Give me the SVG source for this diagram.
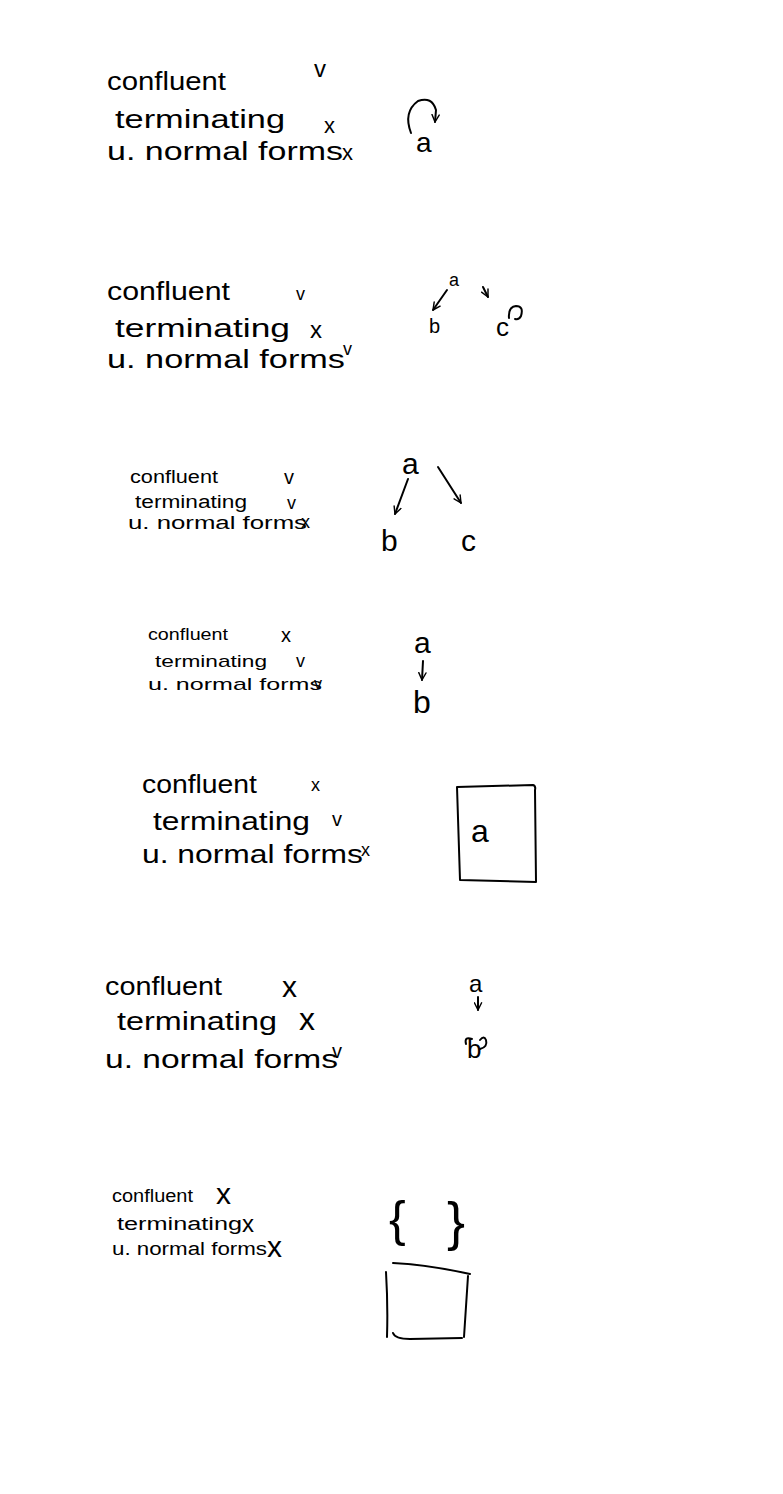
<svg xmlns="http://www.w3.org/2000/svg" width="783" height="1494" viewBox="0 0 783 1494">
<style>
text{font-family:"Liberation Sans","DejaVu Sans",sans-serif;fill:#000}
.l{lengthAdjust:spacingAndGlyphs}
.e{fill:none;stroke:#000;stroke-width:2;stroke-linecap:round;stroke-linejoin:round}
</style>
<defs>
<marker id="ah" viewBox="0 0 10 10" refX="9" refY="5" markerWidth="9" markerHeight="9" markerUnits="userSpaceOnUse" orient="auto">
<path d="M1,1 L9,5 L1,9" fill="none" stroke="#000" stroke-width="1.6" stroke-linecap="round" stroke-linejoin="round"/>
</marker>
</defs>
<rect width="783" height="1494" fill="#fff"/>

<g id="s1">
<text x="107" y="90" font-size="26" textLength="119" lengthAdjust="spacingAndGlyphs">confluent</text>
<text x="115" y="128" font-size="26" textLength="170" lengthAdjust="spacingAndGlyphs">terminating</text>
<text x="107" y="160" font-size="26" textLength="236" lengthAdjust="spacingAndGlyphs">u. normal forms</text>
<text x="314" y="77" font-size="24">v</text>
<text x="324" y="133" font-size="22">x</text>
<text x="342" y="160" font-size="22">x</text>
<g id="s1-a"><text x="416" y="152" font-size="28">a</text></g>
</g>

<g id="s2">
<text x="107" y="300" font-size="26" textLength="123" lengthAdjust="spacingAndGlyphs">confluent</text>
<text x="115" y="337" font-size="26" textLength="175" lengthAdjust="spacingAndGlyphs">terminating</text>
<text x="107" y="368" font-size="26" textLength="238" lengthAdjust="spacingAndGlyphs">u. normal forms</text>
<text x="296" y="300" font-size="18">v</text>
<text x="310" y="338" font-size="24">x</text>
<text x="343" y="355" font-size="18">v</text>
<g id="s2-a"><text x="449" y="286" font-size="18">a</text></g>
<g id="s2-b"><text x="429" y="333" font-size="20">b</text></g>
<g id="s2-c"><text x="496" y="336" font-size="26">c</text></g>
</g>

<g id="s3">
<text x="130" y="483" font-size="18" textLength="88" lengthAdjust="spacingAndGlyphs">confluent</text>
<text x="135" y="508" font-size="18" textLength="112" lengthAdjust="spacingAndGlyphs">terminating</text>
<text x="128" y="529" font-size="18" textLength="179" lengthAdjust="spacingAndGlyphs">u. normal forms</text>
<text x="284" y="484" font-size="20">v</text>
<text x="287" y="509" font-size="18">v</text>
<text x="301" y="528" font-size="18">x</text>
<g id="s3-a"><text x="402" y="474" font-size="30">a</text></g>
<g id="s3-b"><text x="381" y="551" font-size="30">b</text></g>
<g id="s3-c"><text x="461" y="551" font-size="30">c</text></g>
</g>

<g id="s4">
<text x="148" y="640" font-size="17" textLength="80" lengthAdjust="spacingAndGlyphs">confluent</text>
<text x="155" y="667" font-size="17" textLength="112" lengthAdjust="spacingAndGlyphs">terminating</text>
<text x="148" y="690" font-size="17" textLength="174" lengthAdjust="spacingAndGlyphs">u. normal forms</text>
<text x="281" y="642" font-size="20">x</text>
<text x="296" y="667" font-size="18">v</text>
<text x="314" y="689" font-size="16">v</text>
<g id="s4-a"><text x="414" y="653" font-size="30">a</text></g>
<g id="s4-b"><text x="413" y="713" font-size="32">b</text></g>
</g>

<g id="s5">
<text x="142" y="793" font-size="25" textLength="115" lengthAdjust="spacingAndGlyphs">confluent</text>
<text x="153" y="830" font-size="25" textLength="157" lengthAdjust="spacingAndGlyphs">terminating</text>
<text x="142" y="863" font-size="25" textLength="221" lengthAdjust="spacingAndGlyphs">u. normal forms</text>
<text x="311" y="791" font-size="18">x</text>
<text x="332" y="826" font-size="20">v</text>
<text x="361" y="856" font-size="18">x</text>
<g id="s5-a">
<path class="e" d="M457,787 L533,785 Q536,786 535,790 L536,882 L460,880 L457,787"/>
<text x="471" y="842" font-size="32">a</text>
</g>
</g>

<g id="s6">
<text x="105" y="995" font-size="26" textLength="117" lengthAdjust="spacingAndGlyphs">confluent</text>
<text x="117" y="1030" font-size="26" textLength="160" lengthAdjust="spacingAndGlyphs">terminating</text>
<text x="105" y="1068" font-size="26" textLength="233" lengthAdjust="spacingAndGlyphs">u. normal forms</text>
<text x="282" y="997" font-size="30">x</text>
<text x="299" y="1030" font-size="32">x</text>
<text x="332" y="1058" font-size="20">v</text>
<g id="s6-a"><text x="469" y="992" font-size="24">a</text></g>
<g id="s6-b"><text x="467" y="1058" font-size="26">b</text></g>
</g>

<g id="s7">
<text x="112" y="1202" font-size="18" textLength="81" lengthAdjust="spacingAndGlyphs">confluent</text>
<text x="117" y="1230" font-size="18" textLength="125" lengthAdjust="spacingAndGlyphs">terminating</text>
<text x="112" y="1255" font-size="18" textLength="155" lengthAdjust="spacingAndGlyphs">u. normal forms</text>
<text x="216" y="1204" font-size="30">x</text>
<text x="242" y="1232" font-size="24">x</text>
<text x="267" y="1257" font-size="30">x</text>
<g id="s7-set"><text x="389" y="1236" font-size="50">{</text><text x="447" y="1240" font-size="54">}</text></g>
<g id="s7-box">
<path class="e" d="M393,1263 Q430,1265 470,1274 M468,1276 L464,1337 M393,1333 Q395,1339 410,1339 L462,1338 M386,1272 Q388,1305 387,1337"/>
</g>
</g>

<g id="connectors">
<path class="e" d="M411,133 Q403,112 418,101 Q432,96 436,110 L435,122" marker-end="url(#ah)"/>
<path class="e" d="M447,290 L433,310" marker-end="url(#ah)"/>
<path class="e" d="M483,287 L488,297" marker-end="url(#ah)"/>
<path class="e" d="M509,318 Q508,307 516,306 Q524,306 521,316 Q519,320 515,319" />
<path class="e" d="M408,479 L395,514" marker-end="url(#ah)"/>
<path class="e" d="M438,467 L461,503" marker-end="url(#ah)"/>
<path class="e" d="M423,661 L422,680" marker-end="url(#ah)"/>
<path class="e" d="M478,997 L478,1010" marker-end="url(#ah)"/>
<path class="e" d="M472,1039 Q464,1036 466,1044 M480,1049 Q488,1047 486,1040 Q484,1035 480,1040" />
</g>
</svg>
